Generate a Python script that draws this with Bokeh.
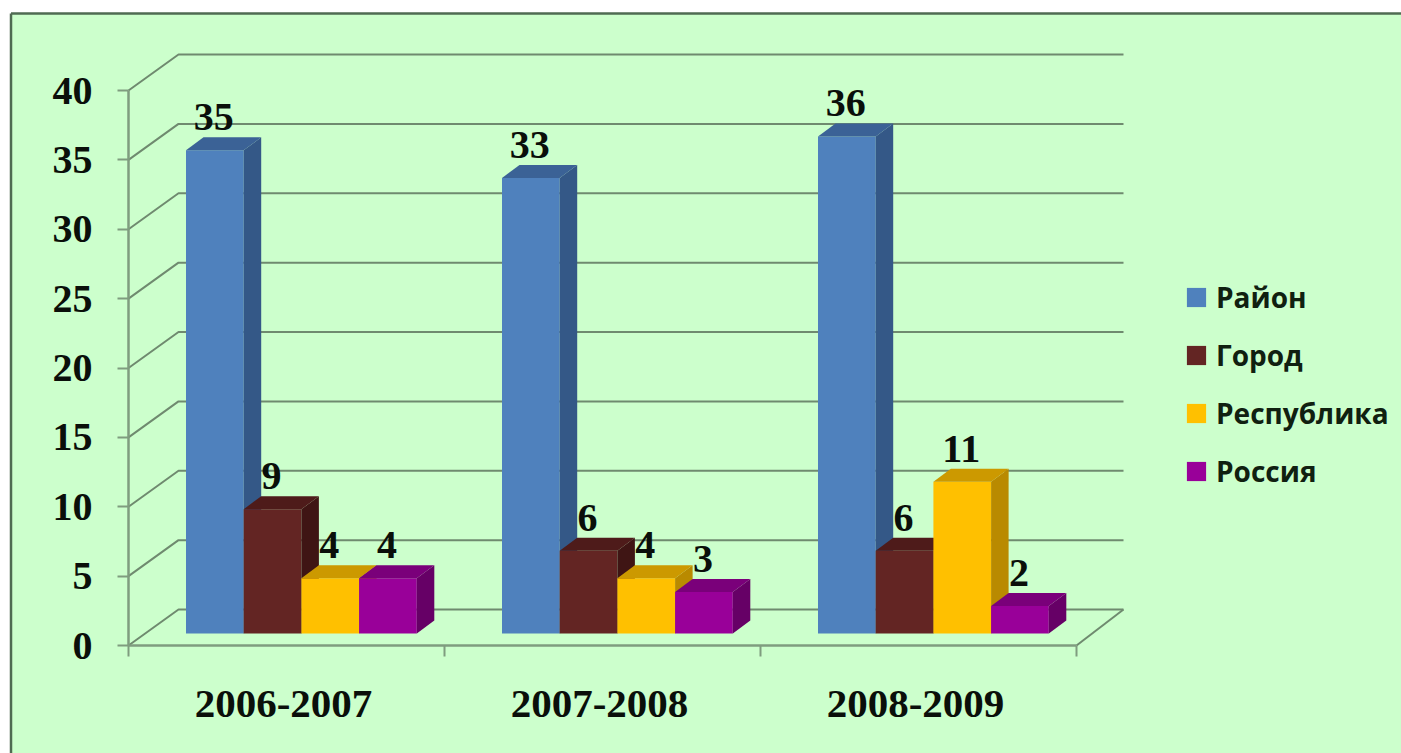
from bokeh.embed import file_html
from bokeh.resources import INLINE
from bokeh.plotting import figure
from bokeh.models import LinearAxis, FixedTicker, Legend, LegendItem, Range1d
from bokeh.core.properties import value

categories = ["2006-2007", "2007-2008", "2008-2009"]
series_names = ["Район", "Город", "Республика", "Россия"]
rayon = [35, 33, 36]
gorod = [9, 6, 6]
respublika = [4, 4, 11]
rossiya = [4, 3, 2]
series_values = [rayon, gorod, respublika, rossiya]
y_ticks = [0, 5, 10, 15, 20, 25, 30, 35, 40]

front_colors = ["#4F81BD", "#632523", "#FFC000", "#990099"]
top_colors = ["#3B6296", "#4E1B1A", "#CC9900", "#7A007A"]
side_colors = ["#345887", "#3F1514", "#B98A00", "#660066"]
BG = "#CCFFCC"
AXIS = "#7F9C7F"
GRID = "#6F8A6F"
BORDER = "#4F6B52"

W, H = 1401, 753
X0, Y0 = 128, 645            # page pixel of (0, 0)
UX, UY = 316.0, 13.875       # pixels per category, pixels per unit
px = lambda d: d / UX
py = lambda d: d / UY

xr = Range1d(-X0 / UX, (W - X0) / UX)
yr = Range1d((Y0 - H) / UY, Y0 / UY)

p = figure(width=W, height=H, x_range=xr, y_range=yr, output_backend="svg",
           toolbar_location=None, min_border=0, x_axis_type=None, y_axis_type=None,
           background_fill_color="white", border_fill_color="white", outline_line_color=None)
p.xgrid.visible = False
p.ygrid.visible = False

# panel
left, top = px(10.5 - X0), py(Y0 - 13)
p.quad(left=[left], right=[xr.end], top=[top], bottom=[yr.start], fill_color=BG, line_color=None)
p.multi_line([[left, left], [left, xr.end]], [[yr.start, top], [top, top]],
             line_color=BORDER, line_width=2.5)

# 3-D walls
wall_dx, wall_dy, wall_end = px(50), py(36), px(47)
p.multi_line([[0, wall_dx, 3 + wall_end] for v in y_ticks],
             [[v, v + wall_dy, v + wall_dy] for v in y_ticks],
             line_color=GRID, line_width=2)
p.line([3, 3 + wall_end], [0, wall_dy], line_color=GRID, line_width=2)

# bars
group_off, bar_w = px(57.5), px(57.7)
base, scale = py(12), 0.995
dep_x, dep_y = px(17.5), py(13)
legend_items = []
label_x, label_y, label_t = [], [], []
for s, vals in enumerate(series_values):
    lefts = [i + group_off + s * bar_w for i in range(3)]
    rights = [l + bar_w for l in lefts]
    tops = [base + v * scale for v in vals]
    front = p.quad(left=lefts, right=rights, bottom=[base] * 3, top=tops,
                   fill_color=front_colors[s], line_color=None)
    p.patches([[r, r + dep_x, r + dep_x, r] for r in rights],
              [[base, base + dep_y, t + dep_y, t] for t in tops],
              fill_color=side_colors[s], line_color=None)
    p.patches([[l, l + dep_x, r + dep_x, r] for l, r in zip(lefts, rights)],
              [[t, t + dep_y, t + dep_y, t] for t in tops],
              fill_color=top_colors[s], line_color=None)
    legend_items.append(LegendItem(label=series_names[s], renderers=[front]))
    for l, r, t, v in zip(lefts, rights, tops, vals):
        label_x.append((l + r) / 2 - px(1))
        label_y.append(t + py(33))
        label_t.append(str(v))

p.text(label_x, label_y, text=label_t, text_align="center", text_baseline="alphabetic",
       text_font=value("Liberation Serif"), text_font_style="bold", text_font_size="40px",
       text_color="#0A0F0A")

# axes placed on the front plane
ya = LinearAxis(fixed_location=0, ticker=FixedTicker(ticks=y_ticks), bounds=(0, 40),
                axis_line_color=AXIS, axis_line_width=2.5,
                major_tick_line_color=AXIS, major_tick_line_width=2,
                major_tick_in=0, major_tick_out=11, minor_tick_line_color=None,
                major_label_standoff=25,
                major_label_text_font="Liberation Serif", major_label_text_font_style="bold",
                major_label_text_font_size="40px", major_label_text_color="#0A0F0A")
p.add_layout(ya, "left")

label_ticks = [0.4905, 1.4905, 2.4905]
xa = LinearAxis(fixed_location=0,
                ticker=FixedTicker(ticks=label_ticks, minor_ticks=[0, 1, 2, 3]),
                bounds=(0, 3),
                major_label_overrides=dict(zip(label_ticks, categories)),
                axis_line_color=AXIS, axis_line_width=2.5,
                major_tick_line_color=None, major_tick_in=0, major_tick_out=0,
                minor_tick_line_color=AXIS, minor_tick_line_width=2,
                minor_tick_in=0, minor_tick_out=11,
                major_label_standoff=34,
                major_label_text_font="Liberation Serif", major_label_text_font_style="bold",
                major_label_text_font_size="41px", major_label_text_color="#0A0F0A")
p.add_layout(xa, "below")

legend = Legend(items=legend_items, location=(1184, 263),
                glyph_width=24, glyph_height=24, label_standoff=8,
                label_text_font="Open Sans", label_text_font_style="bold",
                label_text_font_size="28px", label_text_color="#102010",
                label_height=24, spacing=20, padding=8, margin=0,
                background_fill_alpha=0, border_line_color=None)
p.add_layout(legend, "center")

open("out.html", "w").write(file_html(p, INLINE))
